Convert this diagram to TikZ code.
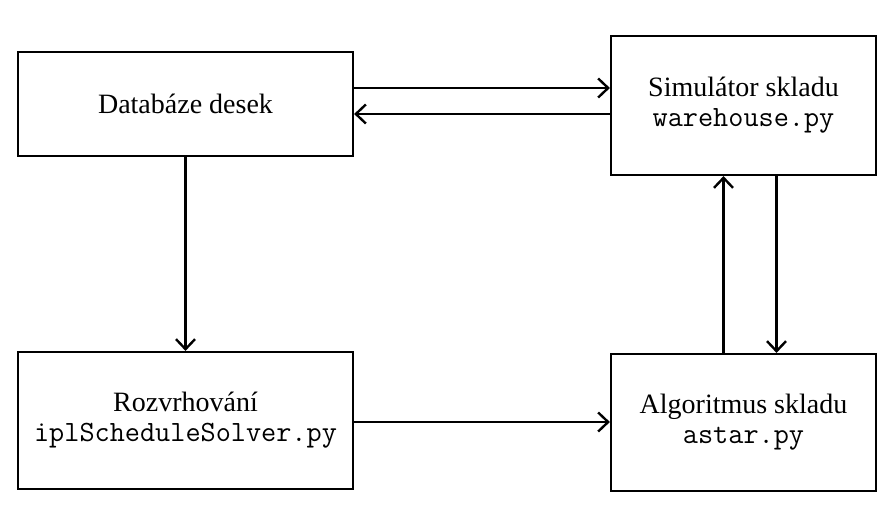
\documentclass[tikz,border=0pt]{standalone}
\usepackage{fontspec}
\setmainfont{Liberation Serif}
\usetikzlibrary{arrows.meta,positioning,calc}
\tikzset{
  box/.style={draw=black, line width=2.2pt, align=center, fill=white, inner sep=0pt, font=\fontsize{28}{33}\selectfont},
  arrow/.style={-{Straight Barb[length=10pt, width=19pt, line width=2.4pt]}, line width=2.5pt, draw=black}
}
\newcommand{\code}[1]{{\ttfamily\fontsize{29.4}{33}\selectfont #1}}

\begin{document}
\begin{tikzpicture}[x=1pt, y=1pt]
  \useasboundingbox (0,0) rectangle (893,523);
  \node[box, minimum width=335pt, minimum height=104pt] (db) at (185.5,419) {Databáze desek};
  \node[box, minimum width=265pt, minimum height=139pt] (sim) at (743.5,417.5) {Simulátor skladu\\[-3pt]\code{warehouse.py}};
  \node[box, minimum width=335pt, minimum height=137pt] (roz) at (185.5,102.5) {Rozvrhování\\[-3pt]\code{iplScheduleSolver.py}};
  \node[box, minimum width=265pt, minimum height=137pt] (alg) at (743.5,100.5) {Algoritmus skladu\\[-3pt]\code{astar.py}};
  \draw[arrow] ([yshift=16pt]db.east) -- ([yshift=16pt]db.east -| sim.west);
  \draw[arrow] ([yshift=-10pt]db.east -| sim.west) -- ([yshift=-10pt]db.east);
  \draw[arrow] (db.south) -- (roz.north);
  \draw[arrow] ([yshift=-1.5pt]roz.east) -- ([yshift=-1.5pt]roz.east -| alg.west);
  \draw[arrow] ([xshift=-20pt]alg.north) -- ([xshift=-20pt]alg.north |- sim.south);
  \draw[arrow] ([xshift=33pt]sim.south) -- ([xshift=33pt]sim.south |- alg.north);
\end{tikzpicture}
\end{document}
